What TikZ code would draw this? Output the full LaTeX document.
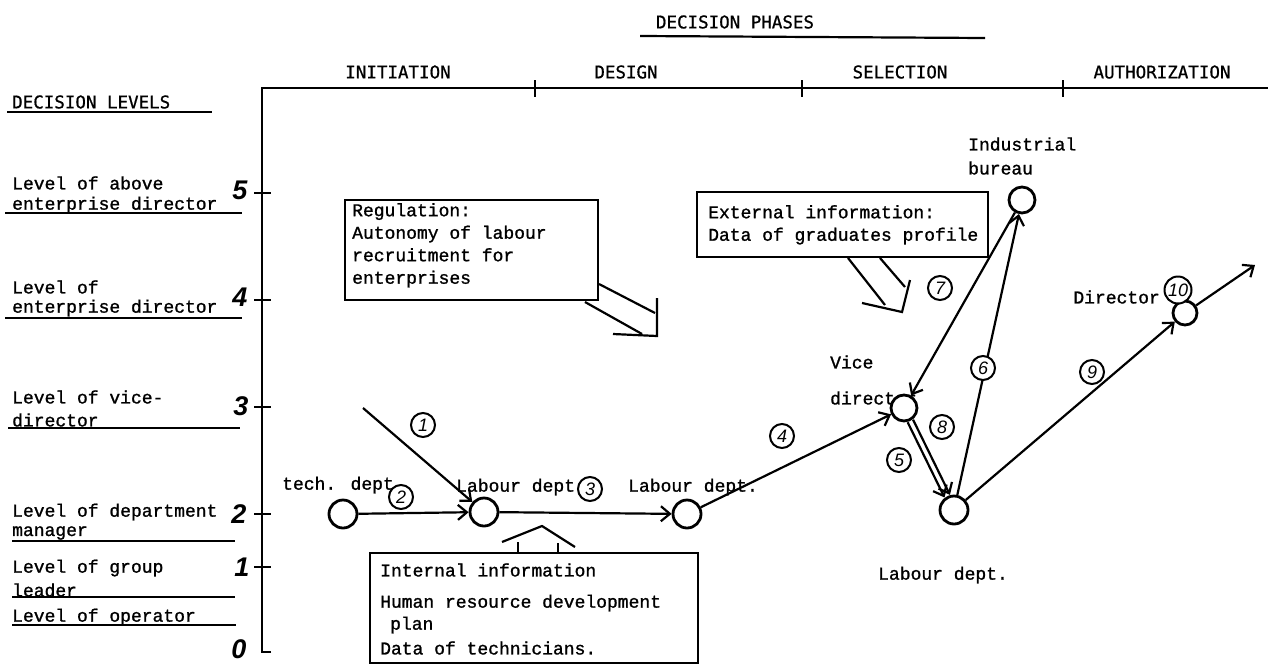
\documentclass[tikz,border=0pt]{standalone}
\usepackage{fontspec}
\setmainfont{Liberation Mono}
\setsansfont{Liberation Sans}
\newfontfamily\bodyfont[FakeBold=1.2]{Liberation Mono}
\newfontfamily\headfont[FakeBold=0.8]{DejaVu Sans Mono}
\usetikzlibrary{arrows.meta}

\begin{document}
\begin{tikzpicture}[x=1pt,y=-1pt,
  every node/.style={inner sep=0pt},
  txt/.style={font=\bodyfont\fontsize{18}{22.5}\selectfont, anchor=west, align=left},
  boxtxt/.style={font=\bodyfont\fontsize{18}{22.5}\selectfont, anchor=north west, align=left},
  hdr/.style={font=\headfont\fontsize{17.5}{20}\selectfont},
  lvl/.style={font=\sffamily\bfseries\itshape\fontsize{27}{27}\selectfont},
  axis/.style={line width=2.8pt},
  rule/.style={line width=2.2pt},
  state/.style={circle, draw, line width=2.8pt, fill=white, minimum size=28pt},
  edge/.style={line width=2.2pt, -{Straight Barb[length=9pt,width=15pt,line width=2.2pt]}},
  num/.style={circle, draw, fill=white, line width=2pt, minimum size=24pt, inner sep=1pt,
              font=\sffamily\itshape\fontsize{18}{18}\selectfont},
  infobox/.style={draw, line width=2.6pt},
  blk/.style={line width=2.2pt},
]
\useasboundingbox (0,0) rectangle (1268,664);

% ---------- axes ----------
\coordinate (o) at (262,652);
\coordinate (top) at (262,88);
\coordinate (xend) at (1268,88);
\draw[axis] (271,652) -- (o) -- (top) -- (xend);
\foreach \x in {535,802,1063} \draw[axis] (\x,80) -- (\x,97);
\foreach \y in {193,300,407,514,567} \draw[axis] (254,\y) -- (271,\y);

% ---------- phase headings ----------
\node[hdr] (ph) at (735,22) {DECISION PHASES};
\draw[rule] (640,36) -- (985,38);
\node[hdr] (p1) at (398,72) {INITIATION};
\node[hdr] (p2) at (626,72) {DESIGN};
\node[hdr] (p3) at (900,72) {SELECTION};
\node[hdr] (p4) at (1162,72) {AUTHORIZATION};

% ---------- decision levels ----------
\node[hdr, anchor=west] (dl) at (12,102) {DECISION LEVELS};
\draw[rule] (7,112) -- (212,112);

\node[txt] (l5a) at (12,183) {Level of above};
\node[txt] (l5b) at (12,205) {enterprise director};
\draw[rule] (5,213) -- (242,213);
\node[lvl] (n5) at (240,190) {5};

\node[txt] (l4a) at (12,287) {Level of};
\node[txt] (l4b) at (12,308) {enterprise director};
\draw[rule] (5,318) -- (242,318);
\node[lvl] (n4) at (240,297) {4};

\node[txt] (l3a) at (12,397) {Level of vice-};
\node[txt] (l3b) at (12,420) {director};
\draw[rule] (8,428) -- (240,428);
\node[lvl] (n3) at (241,406) {3};

\node[txt] (l2a) at (12,512) {Level of department};
\node[txt] (l2b) at (12,533) {manager};
\draw[rule] (12,541) -- (235,541);
\node[lvl] (n2) at (239,514) {2};

\node[txt] (l1a) at (12,568) {Level of group};
\node[txt] (l1b) at (12,590) {leader};
\draw[rule] (12,597) -- (235,597);
\node[lvl] (n1) at (242,567) {1};

\node[txt] (l0a) at (12,617) {Level of operator};
\draw[rule] (12,625) -- (236,625);
\node[lvl] (n0) at (239,649) {0};

% ---------- information boxes ----------
\draw[infobox] (345,200) rectangle (598,300);
\node[boxtxt] (reg) at (352,203) {Regulation:\\Autonomy of labour\\recruitment for\\enterprises};
\draw[blk] (599,284) -- (655,313);
\draw[blk] (585,302) -- (642,334);
\draw[blk] (657,298) -- (657,336) -- (613,334);

\draw[infobox] (697,192) rectangle (988,257);
\node[boxtxt] (ext) at (708,205) {External information:\\Data of graduates profile};
\draw[blk] (848,258) -- (885,305);
\draw[blk] (880,258) -- (905,287);
\draw[blk] (910,280) -- (902,312) -- (862,303);

\draw[infobox] (370,553) rectangle (698,663);
\node[txt] (int1) at (380,570) {Internal information};
\node[txt] (int2) at (380,603) {Human resource development};
\node[txt] (int3) at (390,625) {plan};
\node[txt] (int4) at (380,648) {Data of technicians.};
\draw[blk] (518,553) -- (518,542);
\draw[blk] (558,553) -- (558,543);
\draw[blk] (502,542) -- (542,526) -- (575,547);

% ---------- actor labels ----------
\node[txt] (ttd) at (282,485) {tech. dept};
\node[txt] (tlb1) at (456,487) {Labour dept};
\node[txt] (tlb2) at (628,487) {Labour dept.};
\node[txt] (tvd1) at (830,362) {Vice};
\node[txt] (tvd2) at (830,398) {director};
\node[txt] (tle) at (878,575) {Labour dept.};
\node[txt] (tib1) at (968,144) {Industrial};
\node[txt] (tib2) at (968,168) {bureau};
\node[txt, anchor=east] (tdr) at (1160,297) {Director};

% ---------- actors ----------
\node[state] (td) at (343,514) {};
\node[state] (lb1) at (484,512) {};
\node[state] (lb2) at (687,514) {};
\node[state, minimum size=26pt] (vd) at (904,408) {};
\node[state] (le) at (954,510) {};
\node[state, minimum size=26pt] (ib) at (1022,200) {};
\node[state, minimum size=24pt] (dr) at (1185,313) {};
\coordinate (r1) at (363,408);
\coordinate (out) at (1255,265);

% ---------- flow ----------
\draw[edge] (r1) -- (lb1);
\draw[edge] (td) -- (lb1);
\draw[edge] (lb1) -- (lb2);
\draw[edge] (lb2) -- (vd);
\draw[edge, transform canvas={shift={(2.7pt,1.3pt)}}] (vd) -- (le);
\draw[edge, transform canvas={shift={(-2.7pt,-1.3pt)}}] (vd) -- (le);
\draw[edge] (le) -- (ib);
\draw[edge] (ib) -- (vd);
\draw[edge] (le) -- (dr);
\draw[edge] (dr) -- (out);

% ---------- step numbers ----------
\node[num] (s1) at (423,425) {1};
\node[num] (s2) at (401,497) {2};
\node[num] (s3) at (590,489) {3};
\node[num] (s4) at (782,436) {4};
\node[num] (s5) at (899,460) {5};
\node[num] (s6) at (983,368) {6};
\node[num] (s7) at (940,288) {7};
\node[num] (s8) at (942,427) {8};
\node[num] (s9) at (1092,372) {9};
\node[num, minimum size=27pt] (s10) at (1178,290) {10};
\end{tikzpicture}
\end{document}
